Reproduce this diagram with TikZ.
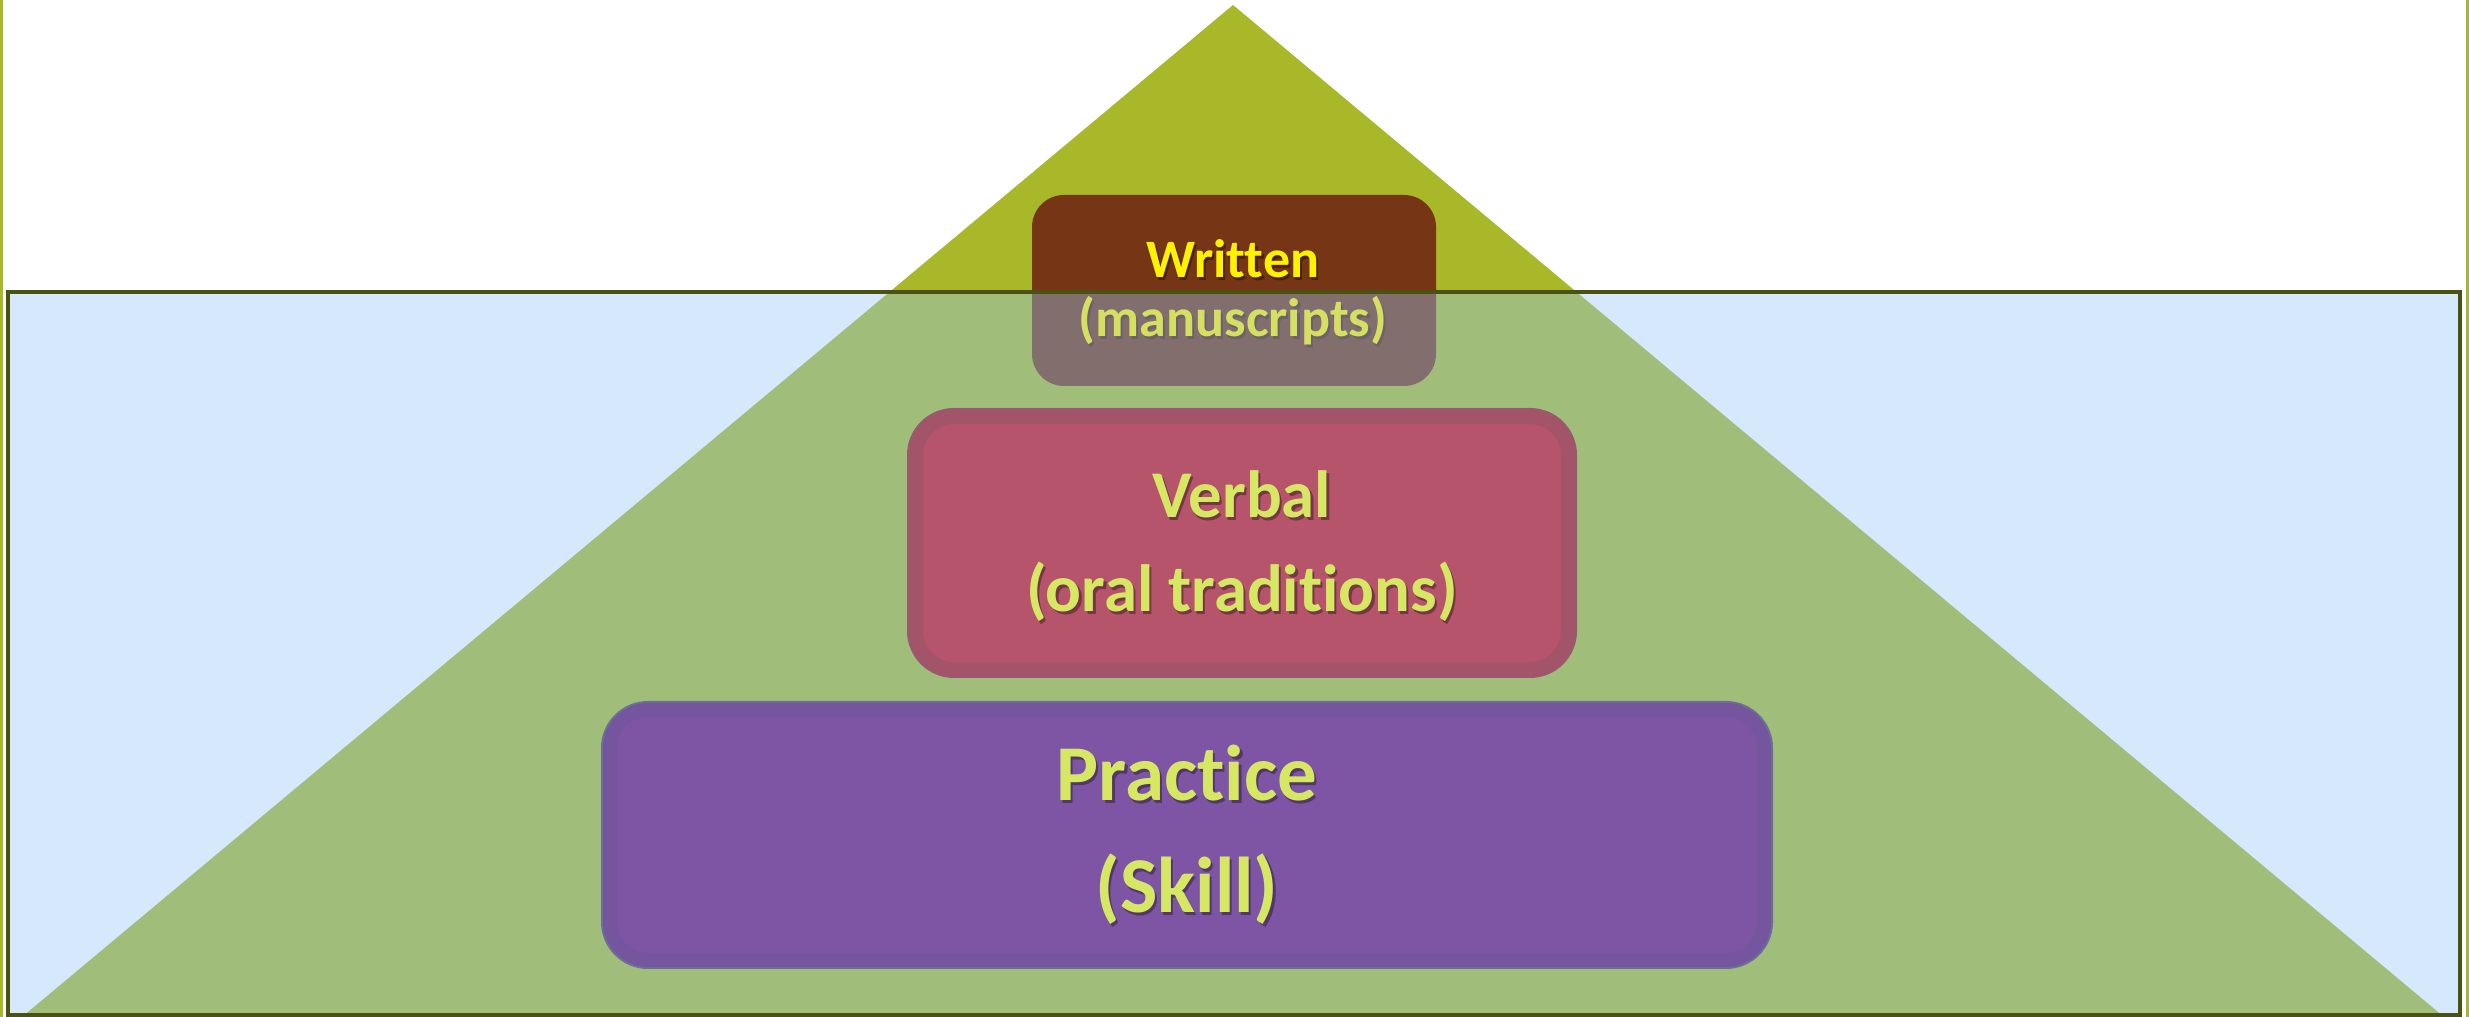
\documentclass[tikz,border=0pt]{standalone}
\usepackage{fontspec}
\setmainfont{Carlito}[Ligatures={NoCommon}]

\definecolor{pyramid}{RGB}{168,184,40}
\definecolor{frameline}{RGB}{75,81,18}
\definecolor{sky}{RGB}{152,197,247}
\definecolor{bark}{RGB}{118,53,20}
\definecolor{rosefill}{RGB}{181,84,106}
\definecolor{roseband}{RGB}{163,84,105}
\definecolor{roseedge}{RGB}{152,90,112}
\definecolor{plumfill}{RGB}{126,85,165}
\definecolor{plumband}{RGB}{117,86,158}
\definecolor{plumedge}{RGB}{106,112,152}
\definecolor{tiertext}{RGB}{214,232,99}

\newcommand\tiercaption[4]{%
  \node[caption,#2,drop] (#1-shadow) at (#3) {#4};
  \node[caption,#2] (#1) at (#3) {#4};}

\begin{document}
\begin{tikzpicture}[
  caption/.style={text=tiertext,inner sep=0pt,anchor=base},
  drop/.style={text=black,text opacity=.35,xshift=.6pt,yshift=-.6pt},
  smallcap/.style={font=\bfseries\fontsize{15.4}{18}\selectfont},
  midcap/.style={font=\bfseries\fontsize{19}{23}\selectfont},
  bigcap/.style={font=\bfseries\fontsize{22.5}{27}\selectfont}]
      \useasboundingbox (0,0) rectangle (24.69,10.17);

      \fill[pyramid] (0.22,0) -- (12.33,10.12) -- (24.44,0) -- cycle;
      \draw[pyramid,line width=0.03cm] (0.015,0) -- (0.015,10.17);
      \draw[pyramid,line width=0.03cm] (24.675,0) -- (24.675,10.17);

      \fill[bark,rounded corners=0.32cm] (10.32,6.31) rectangle (14.36,8.22);
      \tiercaption{written}{smallcap,text=yellow}{12.33,7.39}{Written}
      \tiercaption{manuscripts}{smallcap,text=yellow}{12.33,6.80}{(manuscripts)}

      \draw[frameline,line width=0.04cm,fill=sky,fill opacity=.4] (0.08,0.02) rectangle (24.60,7.25);

      \draw[rounded corners=0.38cm,fill=rosefill,draw=roseband,line width=0.14cm,
        preaction={draw=roseedge,line width=0.18cm}] (9.16,3.48) rectangle (15.68,6.00);
      \tiercaption{verbal}{midcap}{12.42,4.99}{Verbal}
      \tiercaption{oral}{midcap}{12.42,4.05}{(oral traditions)}

      \draw[rounded corners=0.38cm,fill=plumfill,draw=plumband,line width=0.14cm,
        preaction={draw=plumedge,line width=0.18cm}] (6.10,0.57) rectangle (17.64,3.07);
      \tiercaption{practice}{bigcap}{11.87,2.16}{Practice}
      \tiercaption{skill}{bigcap}{11.87,1.04}{(Skill)}
\end{tikzpicture}
\end{document}
